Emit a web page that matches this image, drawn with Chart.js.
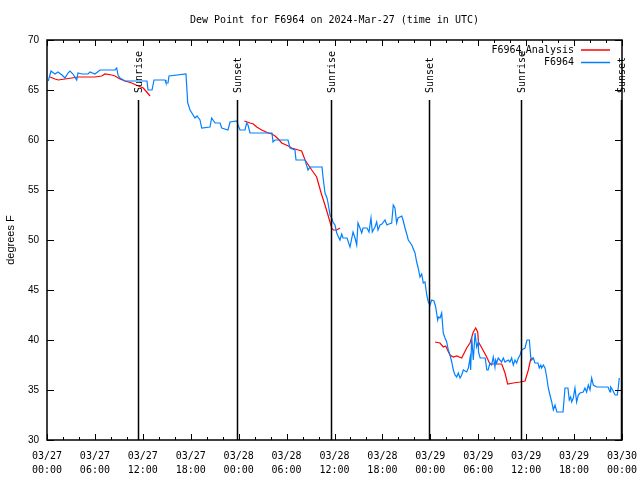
<!DOCTYPE html>
<html>
<head>
<meta charset="utf-8">
<title>Dew Point for F6964</title>
<script src="https://cdn.jsdelivr.net/npm/chart.js@4.4.1/dist/chart.umd.min.js"></script>
<style>
  body { margin: 0; background: #fff; }
  canvas { display: block; }
</style>
</head>
<body>
<canvas id="dewChart" width="640" height="480"></canvas>
<script>
"use strict";

// hours since 03/27 00:00 UTC
const obsHours = [0.16, 0.5, 1.0, 1.38, 1.88, 2.25, 2.63, 2.88, 3.25, 3.72, 3.88, 4.38, 5.13, 5.38, 6.0, 6.64, 7.89, 8.51, 8.73, 8.89,
  9.14, 9.35, 9.77, 12.27, 12.52, 12.65, 13.15, 13.4, 14.78, 14.9, 15.15, 15.28, 17.4, 17.62, 17.91, 18.53, 18.78, 19.16, 19.37, 20.41,
  20.62, 20.79, 21.04, 21.67, 21.88, 22.66, 22.92, 23.79, 23.92, 24.17, 24.79, 25.0, 25.17, 25.42, 28.17, 28.3, 28.55, 30.18, 30.43, 31.05,
  31.18, 32.31, 32.68, 32.93, 34.44, 34.56, 34.81, 35.06, 35.19, 35.44, 35.65, 35.81, 36.06, 36.28, 36.44, 36.69, 36.9, 37.07, 37.57, 37.94,
  38.32, 38.57, 38.78, 38.94, 39.19, 39.41, 39.57, 40.07, 40.32, 40.57, 40.73, 41.07, 41.28, 41.45, 41.7, 41.94, 42.32, 42.57, 42.82, 43.16,
  43.36, 43.57, 43.78, 43.95, 44.42, 44.58, 44.83, 45.08, 45.24, 45.67, 46.08, 46.29, 46.45, 46.71, 46.92, 47.12, 47.33, 47.55, 47.75, 47.96,
  48.17, 48.46, 48.67, 48.92, 49.02, 49.21, 49.42, 49.62, 49.84, 50.05, 50.25, 50.46, 50.68, 50.88, 51.09, 51.3, 51.5, 51.72, 51.93, 52.13,
  52.55, 52.76, 52.97, 53.05, 53.18, 53.38, 53.6, 53.8, 54.0, 54.03, 54.24, 54.87, 55.07, 55.24, 55.46, 55.67, 55.88, 56.09, 56.17, 56.3,
  56.5, 56.92, 57.14, 57.35, 57.76, 57.97, 58.18, 58.39, 58.6, 58.81, 59.02, 59.23, 59.44, 59.86, 60.1, 60.4, 60.57, 60.69, 60.9, 61.1,
  61.48, 61.64, 61.82, 61.94, 62.15, 62.36, 62.57, 62.77, 62.98, 63.2, 63.4, 63.61, 63.84, 64.62, 64.86, 65.23, 65.4, 65.57, 65.7, 65.9,
  66.11, 66.32, 66.53, 66.74, 67.15, 67.36, 67.57, 67.78, 67.99, 68.2, 68.41, 68.82, 70.25, 70.5, 70.58, 70.83, 71.13, 71.41, 71.54, 71.66];

const obsDewpt = [65.9, 66.9, 66.6, 66.8, 66.5, 66.2, 66.7, 66.9, 66.6, 66.0, 66.7, 66.6, 66.6, 66.8, 66.6, 67.0, 67.0, 67.0, 67.2, 66.5,
  66.2, 66.1, 65.9, 65.9, 65.9, 65.0, 65.0, 66.0, 66.0, 65.7, 65.7, 66.4, 66.6, 63.7, 63.0, 62.2, 62.4, 62.0, 61.2, 61.3,
  62.2, 62.0, 61.7, 61.7, 61.2, 61.0, 61.8, 61.9, 61.5, 61.0, 61.0, 61.7, 61.5, 60.7, 60.7, 59.8, 60.0, 60.0, 59.2, 59.0,
  58.0, 58.0, 57.0, 57.3, 57.3, 56.3, 54.7, 54.2, 53.7, 52.5, 52.2, 51.8, 51.5, 50.7, 50.4, 50.0, 50.6, 50.2, 50.2, 49.3,
  50.8, 50.2, 49.5, 51.7, 51.2, 50.7, 51.2, 51.2, 50.8, 52.2, 50.8, 51.3, 51.8, 51.0, 51.5, 51.6, 52.0, 51.5, 51.6, 51.7,
  53.5, 53.2, 51.7, 52.2, 52.4, 52.0, 51.2, 50.5, 50.0, 49.5, 48.7, 47.8, 47.3, 46.3, 46.6, 45.7, 45.8, 44.5, 43.8, 43.5,
  44.0, 43.9, 43.3, 42.0, 42.3, 42.2, 42.7, 40.7, 40.2, 39.8, 39.0, 38.5, 37.8, 37.0, 36.5, 36.3, 36.7, 36.2, 36.5, 37.0,
  36.8, 37.2, 38.2, 37.0, 40.3, 38.0, 40.7, 39.3, 39.8, 38.8, 38.2, 38.2, 37.0, 37.0, 37.7, 37.5, 38.3, 37.3, 38.0, 37.7,
  38.2, 37.8, 38.2, 37.8, 38.0, 37.8, 38.2, 37.5, 38.0, 37.7, 38.2, 38.5, 39.0, 39.2, 40.0, 40.0, 38.3, 38.0, 38.2, 37.7,
  37.7, 37.2, 37.5, 37.2, 37.5, 37.2, 36.3, 35.2, 34.5, 33.8, 33.0, 33.5, 32.8, 32.8, 35.2, 35.2, 34.0, 34.3, 33.8, 34.2,
  35.2, 33.8, 34.5, 34.7, 34.8, 35.2, 34.8, 35.5, 35.0, 36.2, 35.5, 35.3, 35.3, 34.8, 35.3, 35.0, 34.5, 34.5, 35.3, 36.2];

// analysis series, null = no analysis
const anaHours = [0.38, 1.0, 1.41, 2.25, 3.09, 3.92, 6.01, 6.85, 7.26, 8.1, 8.51, 9.14, 9.77, 10.61, 11.43, 12.06, 12.48, 12.9, 18.0,
  24.71, 25.42, 25.83, 26.26, 26.88, 27.71, 28.17, 28.55, 28.96, 29.39, 30.22, 30.64, 31.47, 31.89, 32.31, 33.15, 33.77, 33.97, 34.4, 34.81,
  35.22, 35.65, 35.85, 36.27, 36.69, 42.0,
  48.59, 49.21, 49.62, 49.92, 50.46, 50.88, 51.3, 51.93, 52.55, 52.97, 53.38, 53.68, 53.93, 54.03, 54.45, 55.06, 55.46, 56.94, 57.35, 57.68,
  58.39, 59.23, 59.86, 60.27, 60.57, 60.82];

const anaDewpt = [66.3, 66.1, 66.0, 66.1, 66.2, 66.3, 66.3, 66.4, 66.6, 66.5, 66.4, 66.1, 65.9, 65.7, 65.4, 65.2, 64.8, 64.4, null,
  61.9, 61.7, 61.6, 61.3, 61.0, 60.7, 60.6, 60.4, 60.1, 59.7, 59.4, 59.2, 59.0, 58.9, 58.0, 57.0, 56.3, 55.7, 54.5, 53.5,
  52.4, 51.2, 51.0, 51.0, 51.2, null,
  39.8, 39.7, 39.3, 39.4, 38.5, 38.3, 38.4, 38.2, 39.2, 39.7, 40.8, 41.2, 40.8, 39.8, 39.2, 38.3, 37.6, 37.6, 36.7, 35.6,
  35.7, 35.8, 35.9, 37.0, 38.1, 38.2];

const tickDates = ["03/27", "03/27", "03/27", "03/27", "03/28", "03/28", "03/28", "03/28", "03/29", "03/29", "03/29", "03/29", "03/30"];
const tickTimes = ["00:00", "06:00", "12:00", "18:00", "00:00", "06:00", "12:00", "18:00", "00:00", "06:00", "12:00", "18:00", "00:00"];

const sunHours = [11.4, 23.8, 35.56, 47.83, 59.35, 71.9];
const sunLabels = ["Sunrise", "Sunset", "Sunrise", "Sunset", "Sunrise", "Sunset"];

const legendNames = [["F6964", "u", "Analysis"], ["F6964", "", ""]];
const lineColors = ["#ff0000", "#0080ff"];

const mono = "'DejaVu Sans Mono', monospace";
const sans = "'Liberation Sans', Arial, sans-serif";

function toPoints(hours, values) {
  let pts = [];
  for (let i = 0; i < hours.length; i++) {
    pts.push({ x: hours[i], y: values[i] });
  }
  return pts;
}

// frame, inward ticks, sunrise/sunset markers and the legend, gnuplot style
const gnuplotBits = {
  id: "gnuplotBits",
  afterDraw(chart) {
    const ctx = chart.ctx;
    const area = chart.chartArea;
    const xs = chart.scales.x;
    const ys = chart.scales.y;

    ctx.save();
    ctx.strokeStyle = "#000";
    ctx.lineWidth = 1;

    // ticks
    ctx.beginPath();
    for (let h = 0; h <= 72; h += 2) {
      let px = Math.round(xs.getPixelForValue(h)) + 0.5;
      let len = (h % 6 === 0) ? 6 : 3;
      ctx.moveTo(px, area.bottom);
      ctx.lineTo(px, area.bottom - len);
      ctx.moveTo(px, area.top);
      ctx.lineTo(px, area.top + len);
    }
    for (let v = 30; v <= 70; v += 5) {
      let py = Math.round(ys.getPixelForValue(v)) + 0.5;
      ctx.moveTo(area.left, py);
      ctx.lineTo(area.left + 7, py);
      ctx.moveTo(area.right, py);
      ctx.lineTo(area.right - 7, py);
    }
    ctx.stroke();

    // sunrise / sunset
    ctx.font = "10px " + mono;
    ctx.fillStyle = "#000";
    for (let i = 0; i < sunHours.length; i++) {
      let px = Math.round(xs.getPixelForValue(sunHours[i])) + 0.5;
      ctx.beginPath();
      ctx.lineWidth = 1.5;
      ctx.moveTo(px, 100);
      ctx.lineTo(px, area.bottom);
      ctx.stroke();

      ctx.save();
      ctx.translate(px + 1, 93);
      ctx.rotate(-Math.PI / 2);
      ctx.textAlign = "left";
      ctx.textBaseline = "middle";
      ctx.fillText(sunLabels[i], 0, 0);
      ctx.restore();
    }

    // border
    ctx.lineWidth = 1.5;
    ctx.strokeRect(area.left, area.top, area.right - area.left, area.bottom - area.top);

    // legend
    const textRight = 574;
    for (let i = 0; i < legendNames.length; i++) {
      let y = 50 + i * 12.5;
      let parts = legendNames[i];
      ctx.textBaseline = "middle";
      ctx.textAlign = "right";
      ctx.font = "10px " + mono;
      let x = textRight;
      if (parts[2]) {
        ctx.fillText(parts[2], x, y);
        x -= ctx.measureText(parts[2]).width;
        ctx.font = "7px " + mono;
        ctx.fillText(parts[1], x, y + 3);
        x -= ctx.measureText(parts[1]).width;
        ctx.font = "10px " + mono;
      }
      ctx.fillText(parts[0], x, y);

      ctx.beginPath();
      ctx.strokeStyle = lineColors[i];
      ctx.lineWidth = 1.5;
      ctx.moveTo(581, y);
      ctx.lineTo(610, y);
      ctx.stroke();
    }
    ctx.restore();
  }
};

const ctx = document.getElementById("dewChart").getContext("2d");
new Chart(ctx, {
  type: "line",
  data: {
    datasets: [{
      label: "F6964_Analysis",
      data: toPoints(anaHours, anaDewpt),
      borderColor: lineColors[0],
      borderWidth: 1.2,
      pointRadius: 0,
      tension: 0,
      spanGaps: false,
      order: 2
    }, {
      label: "F6964",
      data: toPoints(obsHours, obsDewpt),
      borderColor: lineColors[1],
      borderWidth: 1.2,
      pointRadius: 0,
      tension: 0,
      order: 1
    }]
  },
  options: {
    responsive: false,
    animation: false,
    layout: { padding: { left: 0, right: 18, top: 0, bottom: 0 } },
    plugins: {
      legend: { display: false },
      tooltip: { enabled: false },
      title: {
        display: true,
        fullSize: false,
        text: "Dew Point for F6964 on 2024-Mar-27 (time in UTC)",
        color: "#000",
        font: { family: mono, size: 10, weight: "normal", lineHeight: 1.2 },
        padding: { top: 14, bottom: 14 }
      }
    },
    scales: {
      x: {
        type: "linear",
        min: 0,
        max: 72,
        grid: { display: false, drawTicks: false },
        border: { display: false },
        ticks: {
          stepSize: 6,
          autoSkip: false,
          maxRotation: 0,
          padding: 9,
          color: "#000",
          font: { family: mono, size: 10, lineHeight: 1.4 },
          callback: function (v) {
            let i = Math.round(v / 6);
            return [tickDates[i], tickTimes[i]];
          }
        },
        afterFit: function (s) {
          s.height = 40;
          s.paddingLeft = 0;
          s.paddingRight = 0;
        }
      },
      y: {
        min: 30,
        max: 70,
        grid: { display: false, drawTicks: false },
        border: { display: false },
        ticks: {
          stepSize: 5,
          padding: 8,
          color: "#000",
          font: { family: sans, size: 10 }
        },
        title: {
          display: true,
          text: "degrees F",
          color: "#000",
          font: { family: sans, size: 11 },
          padding: { top: 4, bottom: 0 }
        },
        afterFit: function (s) { s.width = 47; }
      }
    }
  },
  plugins: [gnuplotBits]
});
</script>
</body>
</html>
